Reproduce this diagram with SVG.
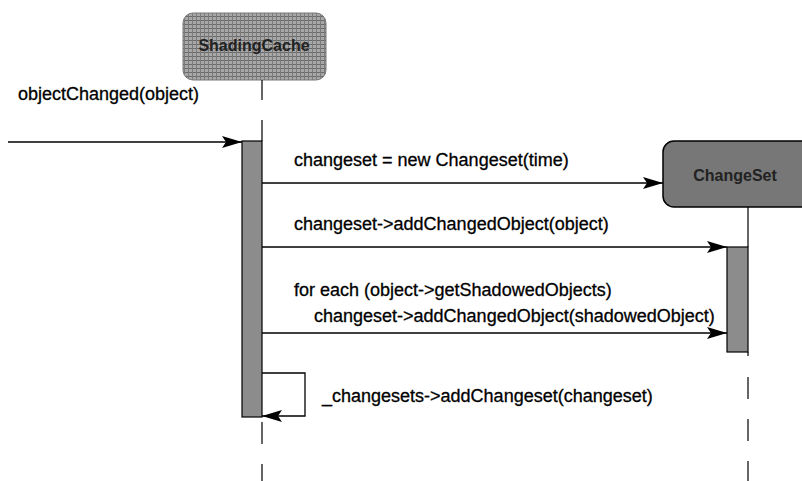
<svg xmlns="http://www.w3.org/2000/svg" width="802" height="481" viewBox="0 0 802 481">
<style>
.lbl{font-family:"Liberation Sans",Arial,sans-serif;font-size:18px;fill:#000;stroke:#000;stroke-width:0.3}
.ttl{font-family:"Liberation Sans",Arial,sans-serif;font-size:16px;font-weight:bold;fill:#222;text-anchor:middle}
.msg{stroke:#000;stroke-width:1.3;fill:none}
.life{stroke:#000;stroke-width:1.2;fill:none}
.act{fill:#8c8c8c;stroke:#000;stroke-width:1.2}
</style>
<defs>
<marker id="ah" viewBox="0 0 20 12" refX="20" refY="6" markerWidth="20" markerHeight="12" markerUnits="userSpaceOnUse" orient="auto">
<path d="M0,0 L20,6 L0,12 L4,6 Z" fill="#000"/>
</marker>
<pattern id="hatch" width="4" height="4" patternUnits="userSpaceOnUse">
<rect width="4" height="4" fill="#a8a8a8"/>
<rect width="4" height="1" fill="#6a6a6a"/>
<rect width="1" height="4" fill="#7a7a7a"/>
</pattern>
</defs>
<g id="shadingcache">
<rect x="183" y="13" width="143" height="67" rx="10" fill="url(#hatch)" stroke="#777" stroke-width="1"/>
<text class="ttl" x="254" y="51">ShadingCache</text>
</g>
<g id="changeset">
<rect x="663" y="141" width="150" height="66" rx="11" fill="#777" stroke="#000" stroke-width="1.5"/>
<text class="ttl" x="735" y="181">ChangeSet</text>
</g>
<g id="lifelines">
<path class="life" d="M262,80 V100 M262,120 V141"/>
<path class="life" d="M262,417 V481" stroke-dasharray="0 5 22 20 22 20"/>
<path class="life" d="M748,207 V247"/>
<path class="life" d="M748,352 V481" stroke-dasharray="4 21 22 20 22 20 22 20"/>
</g>
<g id="activations">
<rect class="act" x="242" y="141" width="20" height="276"/>
<rect class="act" x="727" y="247" width="21" height="105"/>
</g>
<g id="connectors">
<line class="msg" x1="8" y1="142" x2="242" y2="142" marker-end="url(#ah)"/>
<line class="msg" x1="262" y1="183" x2="663" y2="183" marker-end="url(#ah)"/>
<line class="msg" x1="262" y1="247" x2="727" y2="247" marker-end="url(#ah)"/>
<line class="msg" x1="262" y1="333" x2="727" y2="333" marker-end="url(#ah)"/>
<path class="msg" d="M262,373 H305 V416 H262" marker-end="url(#ah)"/>
</g>
<g id="labels">
<text class="lbl" x="18" y="100">objectChanged(object)</text>
<text class="lbl" x="294" y="166">changeset = new Changeset(time)</text>
<text class="lbl" x="294" y="230">changeset-&gt;addChangedObject(object)</text>
<text class="lbl" x="294" y="296">for each (object-&gt;getShadowedObjects)</text>
<text class="lbl" x="314" y="322">changeset-&gt;addChangedObject(shadowedObject)</text>
<text class="lbl" x="322" y="402">_changesets-&gt;addChangeset(changeset)</text>
</g>
</svg>
